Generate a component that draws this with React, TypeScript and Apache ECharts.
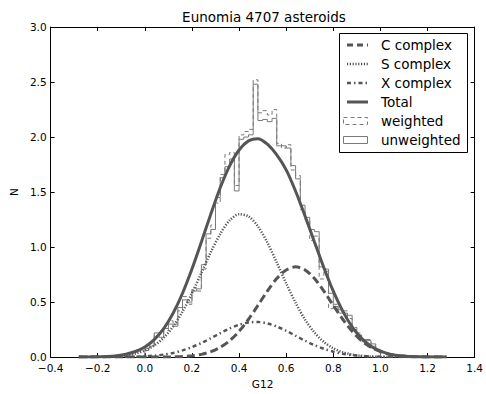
import React, { useEffect, useRef } from "react";
import * as echarts from "echarts";

const title = "Eunomia 4707 asteroids";
const xName = "G12";
const yName = "N";

// smooth model curves
const curveX = [-0.28, -0.24, -0.2, -0.16, -0.12, -0.08, -0.04, 0.0, 0.04, 0.08, 0.12, 0.16, 0.2, 0.24, 0.28, 0.32, 0.36, 0.4, 0.44, 0.48, 0.52, 0.56, 0.6, 0.64, 0.68, 0.72, 0.76, 0.8, 0.84, 0.88, 0.92, 0.96, 1.0, 1.04, 1.08, 1.12, 1.16, 1.2, 1.24, 1.28];
const cComplex = [0, 0, 0, 0, 0, 0, 0, 0.0001, 0.0003, 0.0009, 0.0023, 0.0055, 0.012, 0.025, 0.049, 0.089, 0.149, 0.234, 0.344, 0.47, 0.6, 0.714, 0.792, 0.82, 0.792, 0.714, 0.6, 0.47, 0.344, 0.234, 0.149, 0.089, 0.049, 0.025, 0.012, 0.0055, 0.0023, 0.0009, 0.0003, 0.0001];
const sComplex = [0.0002, 0.0006, 0.0014, 0.0033, 0.0075, 0.0158, 0.0316, 0.0595, 0.1055, 0.176, 0.278, 0.413, 0.579, 0.765, 0.953, 1.12, 1.242, 1.298, 1.279, 1.188, 1.041, 0.86, 0.67, 0.493, 0.341, 0.223, 0.137, 0.08, 0.044, 0.023, 0.011, 0.005, 0.002, 0.001, 0.0003, 0, 0, 0, 0, 0];
const xComplex = [0, 0.0001, 0.0001, 0.0003, 0.0008, 0.0017, 0.0036, 0.007, 0.013, 0.023, 0.038, 0.061, 0.091, 0.128, 0.171, 0.217, 0.26, 0.294, 0.315, 0.319, 0.307, 0.278, 0.239, 0.194, 0.149, 0.109, 0.075, 0.049, 0.03, 0.018, 0.01, 0.005, 0.003, 0.001, 0.0005, 0.0002, 0, 0, 0, 0];
const total = [0.0005, 0.0011, 0.0026, 0.006, 0.0129, 0.0264, 0.0509, 0.0927, 0.1594, 0.2595, 0.399, 0.5805, 0.8, 1.0455, 1.2995, 1.5385, 1.7385, 1.882, 1.965, 1.985, 1.935, 1.837, 1.701, 1.507, 1.282, 1.046, 0.812, 0.599, 0.418, 0.275, 0.17, 0.099, 0.054, 0.027, 0.013, 0.006, 0.0023, 0.0009, 0.0003, 0.0001];

// histograms
const binEdges = [0.0, 0.02, 0.04, 0.06, 0.08, 0.1, 0.12, 0.14, 0.16, 0.18, 0.2, 0.22, 0.24, 0.26, 0.28, 0.3, 0.32, 0.34, 0.36, 0.38, 0.4, 0.42, 0.44, 0.46, 0.48, 0.5, 0.52, 0.54, 0.56, 0.58, 0.6, 0.62, 0.64, 0.66, 0.68, 0.7, 0.72, 0.74, 0.76, 0.78, 0.8, 0.82, 0.84, 0.86, 0.88, 0.9, 0.92, 0.94, 0.96, 0.98, 1.0];
const unweighted = [0.08, 0.1, 0.22, 0.18, 0.26, 0.3, 0.28, 0.45, 0.52, 0.5, 0.6, 0.62, 0.84, 1.12, 1.16, 1.45, 1.63, 1.73, 1.8, 1.51, 1.98, 2.0, 2.02, 2.48, 2.15, 2.16, 2.14, 2.17, 1.92, 1.92, 1.9, 1.74, 1.62, 1.38, 1.27, 1.16, 1.14, 0.82, 0.8, 0.58, 0.46, 0.43, 0.4, 0.38, 0.25, 0.2, 0.16, 0.15, 0.12, 0.06];
const weighted = [0.06, 0.12, 0.2, 0.21, 0.24, 0.33, 0.3, 0.42, 0.55, 0.48, 0.63, 0.6, 0.8, 1.08, 1.2, 1.4, 1.66, 1.84, 1.86, 1.56, 2.02, 2.05, 2.07, 2.52, 2.22, 2.24, 2.2, 2.25, 1.94, 1.9, 1.93, 1.7, 1.65, 1.34, 1.25, 1.06, 1.1, 0.71, 0.78, 0.44, 0.48, 0.4, 0.42, 0.35, 0.27, 0.22, 0.14, 0.16, 0.1, 0.07];

const legendLabels = ["C complex", "S complex", "X complex", "Total", "weighted", "unweighted"];

const FONT = "DejaVu Sans";
const CURVE = "#555555";
const HIST = "#7a7a7a";

function stepOutline(edges: number[], vals: number[]) {
  const pts: number[][] = [[edges[0], 0]];
  for (let i = 0; i < vals.length; i++) {
    pts.push([edges[i], vals[i]]);
    pts.push([edges[i + 1], vals[i]]);
  }
  pts.push([edges[edges.length - 1], 0]);
  return pts;
}

function zip(xs: number[], ys: number[]) {
  return xs.map((x, i) => [x, ys[i]]);
}

const fmt = (v: number) => v.toFixed(1).replace("-", "\u2212");

export default function App() {
  const ref = useRef<HTMLDivElement>(null);
  useEffect(() => {
    if (!ref.current) return;
    const chart = echarts.init(ref.current, null, { renderer: "svg" });
    const axisCommon = {
      axisLine: { show: true, onZero: false, lineStyle: { color: "#000", width: 1 } },
      axisTick: { show: true, inside: true, length: 4, lineStyle: { color: "#000" } },
      splitLine: { show: false },
    };
    const lx0 = 347, lx1 = 368, tx = 381;
    const rows = [45, 64, 83, 102, 121, 140];
    const lineRow = (i: number, dash: any, w: number) => ({
      type: "line",
      shape: { x1: lx0, y1: rows[i], x2: lx1, y2: rows[i] },
      style: { stroke: CURVE, lineWidth: w, lineDash: dash },
    });
    const textRow = (i: number) => ({
      type: "text",
      x: tx,
      y: rows[i],
      style: { text: legendLabels[i], font: `13.5px '${FONT}'`, fill: "#000", verticalAlign: "middle", textAlign: "left" },
    });
    chart.setOption({
      animation: false,
      backgroundColor: "#fff",
      title: {
        text: title,
        left: 259,
        top: 5,
        textAlign: "center",
        textStyle: { fontFamily: FONT, fontSize: 13.5, fontWeight: "normal", color: "#000" },
      },
      grid: { left: 43, right: 11, top: 27, bottom: 33 },
      xAxis: [
        {
          type: "value", min: -0.4, max: 1.4, interval: 0.2, position: "bottom",
          name: xName, nameLocation: "middle", nameGap: 20,
          nameTextStyle: { fontFamily: FONT, fontSize: 10.5, color: "#000" },
          axisLabel: { fontFamily: FONT, fontSize: 10.5, color: "#000", margin: 5, formatter: fmt },
          ...axisCommon,
        },
        {
          type: "value", min: -0.4, max: 1.4, interval: 0.2, position: "top",
          axisLabel: { show: false },
          ...axisCommon,
        },
      ],
      yAxis: [
        {
          type: "value", min: 0, max: 3, interval: 0.5, position: "left",
          name: yName, nameLocation: "middle", nameGap: 29, nameRotate: 90,
          nameTextStyle: { fontFamily: FONT, fontSize: 10.5, color: "#000" },
          axisLabel: { fontFamily: FONT, fontSize: 10.5, color: "#000", margin: 4, formatter: fmt },
          ...axisCommon,
        },
        {
          type: "value", min: 0, max: 3, interval: 0.5, position: "right",
          axisLabel: { show: false },
          ...axisCommon,
        },
      ],
      series: [
        {
          name: "unweighted", type: "line", data: stepOutline(binEdges, unweighted),
          showSymbol: false, symbol: "none", lineStyle: { color: HIST, width: 1 }, z: 2,
        },
        {
          name: "weighted", type: "line", data: stepOutline(binEdges, weighted),
          showSymbol: false, symbol: "none", lineStyle: { color: HIST, width: 1, type: [4, 3] }, z: 2,
        },
        {
          name: "C complex", type: "line", data: zip(curveX, cComplex), smooth: 0.3,
          showSymbol: false, symbol: "none", lineStyle: { color: CURVE, width: 3, type: [8, 4] }, z: 3,
        },
        {
          name: "S complex", type: "line", data: zip(curveX, sComplex), smooth: 0.3,
          showSymbol: false, symbol: "none", lineStyle: { color: CURVE, width: 2.5, type: [1.2, 1.6] }, z: 3,
        },
        {
          name: "X complex", type: "line", data: zip(curveX, xComplex), smooth: 0.3,
          showSymbol: false, symbol: "none", lineStyle: { color: CURVE, width: 2.5, type: [4, 3, 1.5, 3] }, z: 3,
        },
        {
          name: "Total", type: "line", data: zip(curveX, total), smooth: 0.3,
          showSymbol: false, symbol: "none", lineStyle: { color: CURVE, width: 3 }, z: 4,
        },
      ],
      graphic: [
        {
          type: "group",
          z: 100,
          children: [
            { type: "rect", shape: { x: 339.5, y: 33.5, width: 128, height: 119 }, style: { fill: "#fff", stroke: "#000", lineWidth: 1 } },
            lineRow(0, [6, 4], 3),
            lineRow(1, [1.2, 1.6], 2.5),
            lineRow(2, [4, 3, 1.5, 3], 2.5),
            lineRow(3, null, 3),
            { type: "rect", shape: { x: 343.5, y: rows[4] - 3.5, width: 24, height: 7 }, style: { fill: "none", stroke: HIST, lineWidth: 1, lineDash: [4, 3] } },
            { type: "rect", shape: { x: 343.5, y: rows[5] - 3.5, width: 24, height: 7 }, style: { fill: "none", stroke: HIST, lineWidth: 1 } },
            textRow(0), textRow(1), textRow(2), textRow(3), textRow(4), textRow(5),
          ],
        },
      ],
    });
    return () => chart.dispose();
  }, []);
  return <div ref={ref} style={{ width: 486, height: 394, position: "absolute", left: 0, top: 0 }} />;
}
